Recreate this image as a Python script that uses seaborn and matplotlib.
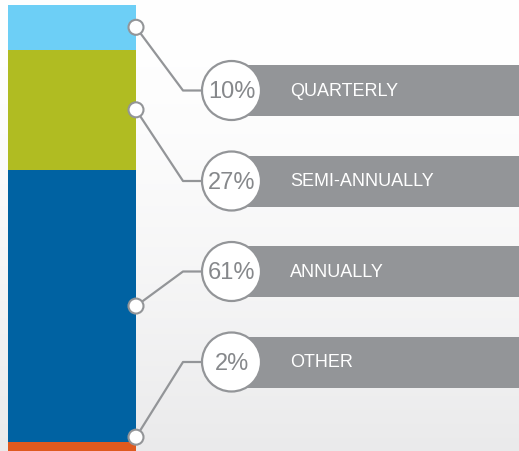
import matplotlib
matplotlib.use("Agg")
import numpy as np
import pandas as pd
import matplotlib.pyplot as plt
import seaborn as sns
from matplotlib.patches import Circle, Rectangle

# data (top of the bar to bottom)
categories = ["QUARTERLY", "SEMI-ANNUALLY", "ANNUALLY", "OTHER"]
shares = [10, 27, 61, 2]
pct_labels = ["10%", "27%", "61%", "2%"]
colors = ["#6dcff6", "#b0bc22", "#0062a2", "#df5a1f"]

df = pd.DataFrame({"category": categories, "share": shares, "color": colors})
# top edge of each stacked segment (stack grows from the bottom)
df["top"] = df["share"][::-1].cumsum()[::-1]
df["mid"] = df["top"] - df["share"] / 2

sns.set_theme(style="white")
plt.rcParams["font.family"] = ["Liberation Sans", "DejaVu Sans"]

W, H = 519, 452
fig = plt.figure(figsize=(W / 100, H / 100), dpi=100)

# background gradient, white at the top to light grey at the bottom
bg = fig.add_axes([0, 0, 1, 1], zorder=0)
t = np.linspace(0, 1, 256)[:, None] ** 1.6
top_c = np.array([1.0, 1.0, 1.0])
bot_c = np.array([0.918, 0.918, 0.922])
grad = top_c + (bot_c - top_c) * t[..., None]
grad = np.repeat(grad, 2, axis=1)
bg.imshow(grad, aspect="auto", extent=[0, 1, 0, 1], origin="upper")
bg.set_axis_off()

# stacked bar
ax = fig.add_axes([8 / W, 0, 128 / W, 446 / H], zorder=1)
for _, row in df.sort_values("top", ascending=False).iterrows():
    sns.barplot(x=["all"], y=[row["top"]], color=row["color"], saturation=1,
                width=1, linewidth=0, ax=ax)
ax.set_xlim(-0.5, 0.5)
ax.set_ylim(0, 100)
ax.set_axis_off()

# annotation layer in pixel units
ov = fig.add_axes([0, 0, 1, 1], zorder=2)
ov.set_xlim(0, W)
ov.set_ylim(H, 0)
ov.set_axis_off()
ov.patch.set_alpha(0)

grey = "#939598"
row_y0, row_step = 91.5, 90.5
elbow_x = 183
cx, r = 231.5, 29.5
box_x, box_h = 240, 51

for i, row in df.iterrows():
    # anchor on the right edge of the bar, kept visible for thin segments
    anchor = max(row["mid"], 3.1)
    px, py = ov.transData.inverted().transform(ax.transData.transform((0.5, anchor)))
    y = row_y0 + row_step * i

    ov.add_patch(Rectangle((box_x, y - box_h / 2), W - box_x, box_h,
                           facecolor=grey, edgecolor="none", zorder=2))
    ov.plot([px, elbow_x, cx - r], [py, y, y], color=grey, lw=1.6,
            solid_capstyle="butt", zorder=3)
    ov.add_patch(Circle((px, py), 7.5, facecolor="white", edgecolor=grey,
                        lw=1.5, zorder=4))
    ov.add_patch(Circle((cx, y), r, facecolor="white", edgecolor=grey,
                        lw=1.6, zorder=4))
    ov.text(cx, y + 1, pct_labels[i], ha="center", va="center", color="#86888b",
            fontsize=17, zorder=5)
    ov.text(290, y, row["category"], ha="left", va="center", color="white",
            fontsize=13, zorder=5)

fig.savefig("out.png", dpi=100)
